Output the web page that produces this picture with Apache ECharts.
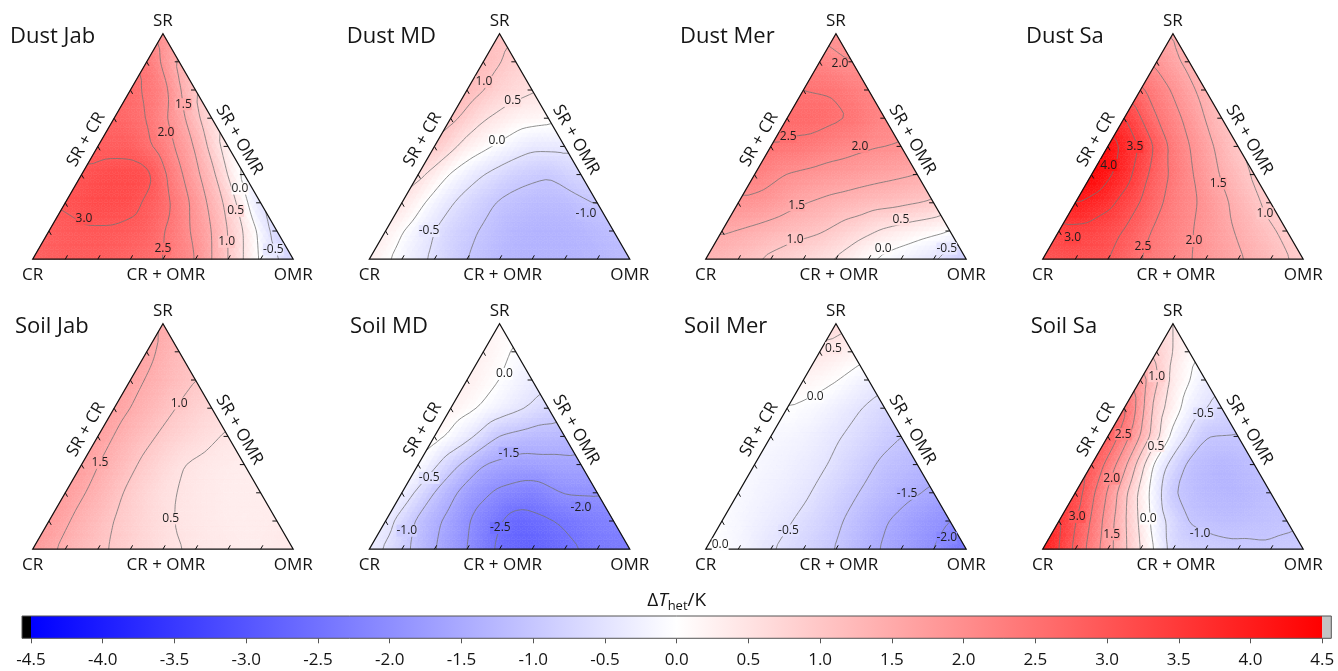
<!DOCTYPE html>
<html>
<head>
<meta charset="utf-8">
<title>Ternary ΔT_het maps</title>
<script src="https://cdn.jsdelivr.net/npm/echarts@6.0.0/dist/echarts.min.js"></script>
<style>
html,body{margin:0;padding:0;background:#ffffff;}
#chart{width:1338px;height:671px;}
</style>
</head>
<body>
<div id="chart"></div>
<script>
// ================= DATA =================
const panelNames = ['Dust Jab','Dust MD','Dust Mer','Dust Sa','Soil Jab','Soil MD','Soil Mer','Soil Sa'];
const cornerLabels = ['SR','CR','OMR'];              // apex, bottom-left, bottom-right
const edgeLabels = ['SR + CR','CR + OMR','SR + OMR']; // left, bottom, right edge

// ΔT_het (K) read at the ternary grid nodes (steps of 1/8).
// Rows run from the SR apex down to the CR–OMR base; each row from the SR+CR edge to the SR+OMR edge.
const dustJab = [
  [1.9],
  [2.45, 1.35],
  [2.65, 2.2, 0.95],
  [2.75, 2.5, 1.7, 0.6],
  [2.85, 2.85, 2.3, 1.45, 0.2],
  [3.05, 3.2, 3.15, 2.1, 1.15, -0.2],
  [3.05, 3.2, 3.15, 2.7, 1.85, 0.85, -0.55],
  [2.85, 2.95, 2.95, 2.8, 2.25, 1.5, 0.47, -0.75],
  [2.8, 2.9, 2.9, 2.75, 2.5, 2.0, 1.0, -0.07, -0.8]
];
const dustMD = [
  [1.1],
  [1.2, 0.85],
  [1.25, 0.8, 0.55],
  [1.15, 0.55, 0.22, 0.12],
  [1.0, 0.3, -0.08, -0.4, -0.38],
  [0.65, -0.05, -0.5, -0.85, -0.97, -0.7],
  [0.48, -0.2, -0.7, -1.05, -1.2, -1.2, -0.97],
  [0.3, -0.25, -0.75, -1.05, -1.3, -1.35, -1.3, -1.15],
  [0.3, -0.18, -0.6, -1.0, -1.25, -1.35, -1.35, -1.3, -1.2]
];
const dustMer = [
  [1.85],
  [2.2, 1.98],
  [2.5, 2.45, 2.2],
  [2.65, 2.65, 2.48, 2.15],
  [2.5, 2.4, 2.2, 2.05, 1.98],
  [2.25, 1.98, 1.85, 1.75, 1.62, 1.5],
  [1.95, 1.8, 1.52, 1.35, 1.2, 1.1, 0.95],
  [1.55, 1.4, 1.2, 1.05, 0.75, 0.42, 0.2, 0.0],
  [1.35, 1.15, 0.9, 0.68, 0.45, 0.02, -0.25, -0.5, -1.0]
];
const dustSa = [
  [1.45],
  [1.9, 1.35],
  [2.6, 1.95, 1.3],
  [3.55, 2.5, 1.85, 1.12],
  [4.3, 3.45, 2.35, 1.68, 0.98],
  [4.45, 3.75, 2.75, 2.08, 1.45, 0.92],
  [4.05, 3.65, 2.98, 2.3, 1.9, 1.35, 0.85],
  [3.35, 3.3, 2.98, 2.4, 2.05, 1.65, 1.25, 0.88],
  [3.0, 3.1, 3.02, 2.5, 2.18, 1.87, 1.57, 1.23, 0.85]
];
const soilJab = [
  [1.5],
  [1.62, 1.2],
  [1.65, 1.3, 1.0],
  [1.68, 1.32, 0.96, 0.7],
  [1.7, 1.28, 0.92, 0.66, 0.45],
  [1.72, 1.3, 0.88, 0.52, 0.38, 0.32],
  [1.75, 1.35, 0.9, 0.56, 0.42, 0.32, 0.32],
  [1.78, 1.35, 0.99, 0.7, 0.47, 0.37, 0.3, 0.35],
  [1.8, 1.38, 1.08, 0.83, 0.58, 0.45, 0.38, 0.35, 0.4]
];
const soilMD = [
  [0.15],
  [0.25, -0.05],
  [0.3, 0.0, -0.32],
  [0.25, -0.05, -0.4, -0.7],
  [0.18, -0.35, -1.03, -1.22, -1.25],
  [0.0, -0.82, -1.5, -1.7, -1.65, -1.6],
  [-0.2, -1.02, -1.72, -2.1, -2.25, -1.97, -1.95],
  [-0.3, -1.09, -1.67, -2.23, -2.7, -2.55, -2.35, -2.2],
  [-0.3, -0.84, -1.48, -2.0, -2.6, -2.8, -2.6, -2.4, -2.35]
];
const soilMer = [
  [0.65],
  [0.45, 0.22],
  [0.2, 0.02, -0.27],
  [0.0, -0.15, -0.42, -0.7],
  [-0.12, -0.22, -0.45, -0.72, -1.0],
  [-0.12, -0.25, -0.42, -0.75, -1.1, -1.25],
  [-0.1, -0.25, -0.42, -0.77, -1.1, -1.36, -1.58],
  [-0.05, -0.25, -0.45, -0.75, -1.1, -1.47, -1.75, -2.0],
  [0.05, -0.15, -0.47, -0.75, -1.02, -1.4, -1.7, -2.0, -2.5]
];
const soilSa = [
  [0.5],
  [0.9, 0.1],
  [1.8, 0.35, -0.3],
  [2.7, 0.75, -0.24, -0.69],
  [2.95, 1.5, -0.15, -1.0, -1.02],
  [3.0, 1.65, -0.2, -1.12, -1.3, -1.15],
  [3.3, 1.95, 0.35, -0.98, -1.25, -1.3, -1.15],
  [3.6, 2.45, 1.08, -0.27, -1.03, -1.15, -1.12, -1.05],
  [4.1, 2.88, 1.7, 0.5, -0.7, -0.85, -0.92, -0.95, -0.92]
];

// Contour-line annotations: [level, SR fraction, OMR fraction]
const dustJabLabels = [[3.0,0.18,0.107],[2.5,0.047,0.476],[2.0,0.562,0.23],[1.5,0.687,0.235],[1.0,0.077,0.706],[0.5,0.214,0.672],[0.0,0.313,0.639],[-0.5,0.043,0.902]];
const dustMDLabels = [[1.0,0.786,0.047],[0.5,0.701,0.2],[0.0,0.527,0.226],[-0.5,0.125,0.167],[-1.0,0.203,0.73]];
const dustMerLabels = [[2.0,0.867,0.082],[2.5,0.542,0.046],[2.0,0.498,0.343],[1.5,0.239,0.23],[1.0,0.088,0.299],[0.5,0.176,0.661],[0.0,0.047,0.658],[-0.5,0.047,0.902]];
const dustSaLabels = [[3.5,0.498,0.105],[4.0,0.417,0.045],[3.0,0.096,0.067],[2.5,0.055,0.357],[2.0,0.081,0.54],[1.5,0.336,0.506],[1.0,0.203,0.752]];
const soilJabLabels = [[1.0,0.646,0.239],[1.5,0.383,0.067],[0.5,0.136,0.462]];
const soilMDLabels = [[0.0,0.777,0.13],[-0.5,0.316,0.072],[-1.5,0.426,0.323],[-2.0,0.185,0.72],[-1.0,0.082,0.103],[-2.5,0.094,0.456]];
const soilMerLabels = [[0.5,0.891,0.045],[0.0,0.677,0.082],[-0.5,0.083,0.276],[-1.5,0.246,0.65],[-2.0,0.051,0.9],[0.0,0.021,0.045]];
const soilSaLabels = [[1.0,0.767,0.054],[-0.5,0.602,0.316],[2.5,0.51,0.054],[0.5,0.457,0.206],[2.0,0.313,0.108],[3.0,0.143,0.061],[0.0,0.136,0.337],[1.5,0.066,0.232],[-1.0,0.07,0.569]];

const contourLevels = [-4.5,-4.0,-3.5,-3.0,-2.5,-2.0,-1.5,-1.0,-0.5,0.0,0.5,1.0,1.5,2.0,2.5,3.0,3.5,4.0,4.5];
const cbTicks = [-4.5,-4.0,-3.5,-3.0,-2.5,-2.0,-1.5,-1.0,-0.5,0.0,0.5,1.0,1.5,2.0,2.5,3.0,3.5,4.0,4.5];
const cbTickLabels = ['-4.5','-4.0','-3.5','-3.0','-2.5','-2.0','-1.5','-1.0','-0.5','0.0','0.5','1.0','1.5','2.0','2.5','3.0','3.5','4.0','4.5'];
const cbStops = [-4.5, 0.0, 4.5];

// ================= LAYOUT / STYLE =================
const FONT = '"Open Sans", "Noto Sans", sans-serif';
const TEXT = '#151515';
const layout = {
  left: [32.7, 369.3, 705.7, 1042.7],
  top: [33.6, 323.6],
  width: 260.5,
  height: 225.6,
  titleDx: [-22.7, -22.6, -25.7, -16.7, -17.7, -19.3, -21.7, -12],
  cb: {left: 31, top: 616, width: 1291.3, height: 22.3, endBox: 9}
};

// ================= HELPERS =================
const N = 8, S = 6, R = N * S;
function colorOf(v) {
  const t = Math.max(-1, Math.min(1, v / 4.5));
  let r, g, b;
  if (t >= 0) { r = 255; g = b = Math.round(255 * (1 - t)); }
  else { b = 255; r = g = Math.round(255 * (1 + t)); }
  return 'rgb(' + r + ',' + g + ',' + b + ')';
}
const nid = (I, J) => I * (R + 1) + J;

function buildField(rows) {
  const V = (i, j) => rows[N - i][j];
  let f = new Float64Array((R + 1) * (R + 1));
  for (let I = 0; I <= R; I++) {
    for (let J = 0; J <= R - I; J++) {
      const p = I / S, q = J / S;
      const i0 = Math.min(Math.floor(p + 1e-9), N - 1);
      const j0 = Math.min(Math.floor(q + 1e-9), N - 1 - i0);
      const fp = p - i0, fq = q - j0;
      let v;
      if (fp + fq <= 1 + 1e-9) v = V(i0, j0) * (1 - fp - fq) + V(i0 + 1, j0) * fp + V(i0, j0 + 1) * fq;
      else v = V(i0 + 1, j0 + 1) * (fp + fq - 1) + V(i0 + 1, j0) * (1 - fq) + V(i0, j0 + 1) * (1 - fp);
      f[nid(I, J)] = v;
    }
  }
  const nb = [[1,0],[-1,0],[0,1],[0,-1],[1,-1],[-1,1]];
  for (let pass = 0; pass < 3; pass++) {
    const g = new Float64Array(f.length);
    for (let I = 0; I <= R; I++) {
      for (let J = 0; J <= R - I; J++) {
        let s = 0, n = 0;
        for (const d of nb) {
          const I2 = I + d[0], J2 = J + d[1];
          if (I2 >= 0 && J2 >= 0 && I2 + J2 <= R) { s += f[nid(I2, J2)]; n++; }
        }
        g[nid(I, J)] = 0.5 * f[nid(I, J)] + 0.5 * s / n;
      }
    }
    f = g;
  }
  let mn = Infinity, mx = -Infinity;
  for (let I = 0; I <= R; I++) for (let J = 0; J <= R - I; J++) { const v = f[nid(I, J)]; if (v < mn) mn = v; if (v > mx) mx = v; }
  return {f, min: mn, max: mx};
}

const panels = [
  {rows: dustJab, labels: dustJabLabels},
  {rows: dustMD, labels: dustMDLabels},
  {rows: dustMer, labels: dustMerLabels},
  {rows: dustSa, labels: dustSaLabels},
  {rows: soilJab, labels: soilJabLabels},
  {rows: soilMD, labels: soilMDLabels},
  {rows: soilMer, labels: soilMerLabels},
  {rows: soilSa, labels: soilSaLabels}
].map((p, k) => Object.assign(p, {name: panelNames[k]}, buildField(p.rows)));

function sampleField(panel, a, b) {
  let I = Math.round(a * R), J = Math.round(b * R);
  I = Math.max(0, Math.min(R, I)); J = Math.max(0, Math.min(R - I, J));
  return panel.f[nid(I, J)];
}

// coarse cells of the ternary grid: [SR index, OMR index, 0 = upward / 1 = downward]
const coarseCells = [];
for (let i = 0; i < N; i++) for (let j = 0; j < N - i; j++) {
  coarseCells.push([i, j, 0]);
  if (i + j <= N - 2) coarseCells.push([i, j, 1]);
}

// (SR fraction a, OMR fraction b) -> cartesian (x along base, y = height fraction)
const tern = (a, b) => [b + a / 2, a];

function fillRenderer(panel) {
  return function (params, api) {
    const ci = api.value(0), cj = api.value(1), down = api.value(2);
    const f = panel.f;
    const P = (I, J) => api.coord(tern(I / R, J / R));
    const kids = [];
    const tri = (A, B, C) => {
      const v = (f[nid(A[0], A[1])] + f[nid(B[0], B[1])] + f[nid(C[0], C[1])]) / 3;
      const c = colorOf(v);
      kids.push({type: 'polygon', silent: true, shape: {points: [P(A[0], A[1]), P(B[0], B[1]), P(C[0], C[1])]},
        style: {fill: c, stroke: c, lineWidth: 0.6}});
    };
    for (let di = 0; di < S; di++) for (let dj = 0; dj < S; dj++) {
      const I = ci * S + di, J = cj * S + dj;
      if (I + J <= R - 1) {
        const inside = (di + dj + 2 / 3) < S;
        if (inside === (down === 0)) tri([I, J], [I + 1, J], [I, J + 1]);
      }
      if (I + J <= R - 2) {
        const inside = (di + dj + 4 / 3) < S;
        if (inside === (down === 0)) tri([I + 1, J], [I, J + 1], [I + 1, J + 1]);
      }
    }
    return {type: 'group', silent: true, children: kids};
  };
}

function contourRenderer(panel) {
  return function (params, api) {
    const L = api.value(0) + 1e-7;
    if (L < panel.min || L > panel.max) return null;
    const f = panel.f;
    const px = new Float64Array(f.length), py = new Float64Array(f.length);
    for (let I = 0; I <= R; I++) for (let J = 0; J <= R - I; J++) {
      const c = api.coord(tern(I / R, J / R)); px[nid(I, J)] = c[0]; py[nid(I, J)] = c[1];
    }
    let d = '';
    const seg = (a, b, c) => {
      const va = f[a], vb = f[b], vc = f[c];
      const pts = [];
      const edge = (p, q, vp, vq) => {
        if ((vp < L) !== (vq < L)) {
          const t = (L - vp) / (vq - vp);
          pts.push([px[p] + t * (px[q] - px[p]), py[p] + t * (py[q] - py[p])]);
        }
      };
      edge(a, b, va, vb); edge(b, c, vb, vc); edge(c, a, vc, va);
      if (pts.length === 2) d += 'M' + pts[0][0].toFixed(2) + ' ' + pts[0][1].toFixed(2) + 'L' + pts[1][0].toFixed(2) + ' ' + pts[1][1].toFixed(2);
    };
    for (let I = 0; I < R; I++) for (let J = 0; J < R - I; J++) {
      seg(nid(I, J), nid(I + 1, J), nid(I, J + 1));
      if (I + J <= R - 2) seg(nid(I + 1, J), nid(I, J + 1), nid(I + 1, J + 1));
    }
    if (!d) return null;
    return {type: 'path', silent: true, shape: {pathData: d}, style: {fill: null, stroke: '#747474', lineWidth: 0.8}};
  };
}

function labelRenderer(panel) {
  return function (params, api) {
    const lv = api.value(0), a = api.value(1), b = api.value(2);
    const c = api.coord(tern(a, b));
    return {type: 'text', silent: true, x: c[0], y: c[1], z2: 10,
      style: {text: lv.toFixed(1), fill: '#1e1e1e', fontSize: 12, fontFamily: FONT,
        align: 'center', verticalAlign: 'middle', backgroundColor: colorOf(sampleField(panel, a, b)), padding: [0, 0]}};
  };
}

function frameRenderer(k) {
  return function (params, api) {
    const C = api.coord(tern(0, 0)), O = api.coord(tern(0, 1)), T = api.coord(tern(1, 0));
    const kids = [];
    kids.push({type: 'polygon', silent: true, shape: {points: [C, O, T]}, style: {fill: null, stroke: '#111', lineWidth: 1.2}});
    const unit = (p, q) => { const dx = q[0] - p[0], dy = q[1] - p[1], l = Math.hypot(dx, dy); return [dx / l, dy / l]; };
    const edges = [[C, O, unit(C, T)], [O, T, unit(O, C)], [T, C, unit(T, O)]];
    for (const [A, B, dir] of edges) {
      for (let t = 1; t < N; t++) {
        const x = A[0] + (B[0] - A[0]) * t / N, y = A[1] + (B[1] - A[1]) * t / N;
        kids.push({type: 'line', silent: true, shape: {x1: x, y1: y, x2: x + dir[0] * 4.5, y2: y + dir[1] * 4.5}, style: {stroke: '#111', lineWidth: 1}});
      }
    }
    const txt = (s, x, y, size, rot, align) => ({type: 'text', silent: true, x, y, rotation: rot || 0,
      style: {text: s, fill: TEXT, fontSize: size, fontFamily: FONT, align: align || 'center', verticalAlign: 'middle'}});
    kids.push(txt(cornerLabels[0], T[0], T[1] - 12, 17));
    kids.push(txt(cornerLabels[1], C[0], C[1] + 16, 17));
    kids.push(txt(cornerLabels[2], O[0], O[1] + 16, 17));
    kids.push(txt(edgeLabels[1], (C[0] + O[0]) / 2 + 3, C[1] + 16, 17));
    const ml = [(C[0] + T[0]) / 2 - 0.866 * 13.5, (C[1] + T[1]) / 2 - 0.5 * 13.5];
    const mr = [(O[0] + T[0]) / 2 + 0.866 * 13, (O[1] + T[1]) / 2 - 0.5 * 13];
    kids.push(txt(edgeLabels[0], ml[0], ml[1], 17, Math.PI / 3));
    kids.push(txt(edgeLabels[2], mr[0], mr[1], 17, -Math.PI / 3));
    kids.push(txt(panelNames[k], C[0] + layout.titleDx[k], T[1] + 3, 22, 0, 'left'));
    return {type: 'group', silent: true, children: kids};
  };
}

// ================= OPTION =================
const grids = [], xAxes = [], yAxes = [], series = [];
panels.forEach((p, k) => {
  const col = k % 4, row = Math.floor(k / 4);
  grids.push({left: layout.left[col], top: layout.top[row], width: layout.width, height: layout.height});
  xAxes.push({type: 'value', gridIndex: k, min: 0, max: 1, show: false});
  yAxes.push({type: 'value', gridIndex: k, min: 0, max: 1, show: false});
  const base = {type: 'custom', xAxisIndex: k, yAxisIndex: k, silent: true, animation: false};
  series.push(Object.assign({}, base, {name: p.name + ' fill', data: coarseCells, renderItem: fillRenderer(p)}));
  series.push(Object.assign({}, base, {name: p.name + ' contours', data: contourLevels.map(v => [v]), renderItem: contourRenderer(p)}));
  series.push(Object.assign({}, base, {name: p.name + ' labels', data: p.labels, renderItem: labelRenderer(p)}));
  series.push(Object.assign({}, base, {name: p.name + ' frame', data: [[0]], renderItem: frameRenderer(k)}));
});

// colour bar
const CB = 8;
grids.push({left: layout.cb.left, top: layout.cb.top, width: layout.cb.width, height: layout.cb.height});
xAxes.push({type: 'value', gridIndex: CB, min: cbTicks[0], max: cbTicks[cbTicks.length - 1], interval: 0.5, position: 'bottom',
  axisLine: {show: false}, splitLine: {show: false},
  axisTick: {show: true, length: 5, lineStyle: {color: '#555', width: 1}},
  axisLabel: {fontSize: 17, color: TEXT, margin: 13, fontFamily: FONT,
    formatter: v => cbTickLabels[Math.round((v - cbTicks[0]) / 0.5)]}});
yAxes.push({type: 'value', gridIndex: CB, min: 0, max: 1, show: false});
const cbSegments = cbStops.slice(0, -1).map((v, i) => [v, cbStops[i + 1]]);
series.push({type: 'custom', xAxisIndex: CB, yAxisIndex: CB, silent: true, data: cbSegments,
  renderItem: (params, api) => {
    const v0 = api.value(0), v1 = api.value(1);
    const p0 = api.coord([v0, 0]), p1 = api.coord([v1, 1]);
    return {type: 'rect', silent: true, shape: {x: p0[0], y: p1[1], width: p1[0] - p0[0], height: p0[1] - p1[1]},
      style: {fill: {type: 'linear', x: 0, y: 0, x2: 1, y2: 0, colorStops: [{offset: 0, color: colorOf(v0)}, {offset: 1, color: colorOf(v1)}]}}};
  }});
series.push({type: 'custom', xAxisIndex: CB, yAxisIndex: CB, silent: true, data: [[cbStops[0], -1], [cbStops[cbStops.length - 1], 1]],
  renderItem: (params, api) => {
    const v = api.value(0), side = api.value(1);
    const p0 = api.coord([v, 0]), p1 = api.coord([v, 1]);
    const w = layout.cb.endBox;
    return {type: 'rect', silent: true, shape: {x: side < 0 ? p0[0] - w : p0[0], y: p1[1], width: w, height: p0[1] - p1[1]},
      style: {fill: side < 0 ? '#000000' : '#c3c3c3'}};
  }});
series.push({type: 'custom', xAxisIndex: CB, yAxisIndex: CB, silent: true, data: [[cbStops[0], cbStops[cbStops.length - 1]]],
  renderItem: (params, api) => {
    const p0 = api.coord([api.value(0), 0]), p1 = api.coord([api.value(1), 1]);
    const w = layout.cb.endBox;
    const mid = api.coord([0, 1]);
    return {type: 'group', silent: true, children: [
      {type: 'rect', shape: {x: p0[0] - w, y: p1[1], width: p1[0] - p0[0] + 2 * w, height: p0[1] - p1[1]},
        style: {fill: null, stroke: '#555', lineWidth: 1}},
      {type: 'text', x: mid[0], y: p1[1] - 15,
        style: {text: '{d|Δ}{t|T}{s|het}{d|/K}', fontFamily: FONT, fill: TEXT, align: 'center', verticalAlign: 'middle',
          rich: {d: {fontSize: 19, lineHeight: 24, fontFamily: FONT, fill: TEXT},
                 t: {fontSize: 19, lineHeight: 24, fontStyle: 'italic', fontFamily: FONT, fill: TEXT},
                 s: {fontSize: 13, verticalAlign: 'bottom', fontFamily: FONT, fill: TEXT}}}}
    ]};
  }});

const chart = echarts.init(document.getElementById('chart'), null, {renderer: 'canvas'});
chart.setOption({
  animation: false,
  backgroundColor: '#ffffff',
  textStyle: {fontFamily: FONT},
  grid: grids, xAxis: xAxes, yAxis: yAxes, series: series
});
</script>
</body>
</html>
